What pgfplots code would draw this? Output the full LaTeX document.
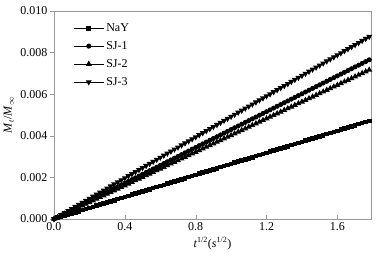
\documentclass[border=0pt]{standalone}
\usepackage{pgfplots}
\pgfplotsset{compat=1.18}
\usepackage{pgfplotstable}
\usepackage{fontspec}
\setmainfont{Liberation Serif}
\pgfplotstableread{
x NaY SJ1 SJ2 SJ3
0.00 0 0 0 0
0.02 0.000053 0.000086 0.0000805 0.0000985
0.04 0.000106 0.000172 0.000161 0.000197
0.06 0.000159 0.000258 0.0002415 0.0002955
0.08 0.000212 0.000344 0.000322 0.000394
0.10 0.000265 0.000430 0.0004025 0.0004925
0.12 0.000318 0.000516 0.000483 0.000591
0.14 0.000371 0.000602 0.0005635 0.0006895
0.16 0.000424 0.000688 0.000644 0.000788
0.18 0.000477 0.000774 0.0007245 0.0008865
0.20 0.000530 0.000860 0.000805 0.000985
0.22 0.000583 0.000946 0.0008855 0.0010835
0.24 0.000636 0.001032 0.000966 0.001182
0.26 0.000689 0.001118 0.0010465 0.0012805
0.28 0.000742 0.001204 0.001127 0.001379
0.30 0.000795 0.001290 0.0012075 0.0014775
0.32 0.000848 0.001376 0.001288 0.001576
0.34 0.000901 0.001462 0.0013685 0.0016745
0.36 0.000954 0.001548 0.001449 0.001773
0.38 0.001007 0.001634 0.0015295 0.0018715
0.40 0.001060 0.001720 0.001610 0.001970
0.42 0.001113 0.001806 0.0016905 0.0020685
0.44 0.001166 0.001892 0.001771 0.002167
0.46 0.001219 0.001978 0.0018515 0.0022655
0.48 0.001272 0.002064 0.001932 0.002364
0.50 0.001325 0.002150 0.0020125 0.0024625
0.52 0.001378 0.002236 0.002093 0.002561
0.54 0.001431 0.002322 0.0021735 0.0026595
0.56 0.001484 0.002408 0.002254 0.002758
0.58 0.001537 0.002494 0.0023345 0.0028565
0.60 0.001590 0.002580 0.002415 0.002955
0.62 0.001643 0.002666 0.0024955 0.0030535
0.64 0.001696 0.002752 0.002576 0.003152
0.66 0.001749 0.002838 0.0026565 0.0032505
0.68 0.001802 0.002924 0.002737 0.003349
0.70 0.001855 0.003010 0.0028175 0.0034475
0.72 0.001908 0.003096 0.002898 0.003546
0.74 0.001961 0.003182 0.0029785 0.0036445
0.76 0.002014 0.003268 0.003059 0.003743
0.78 0.002067 0.003354 0.0031395 0.0038415
0.80 0.002120 0.003440 0.003220 0.003940
0.82 0.002173 0.003526 0.0033005 0.0040385
0.84 0.002226 0.003612 0.003381 0.004137
0.86 0.002279 0.003698 0.0034615 0.0042355
0.88 0.002332 0.003784 0.003542 0.004334
0.90 0.002385 0.003870 0.0036225 0.0044325
0.92 0.002438 0.003956 0.003703 0.004531
0.94 0.002491 0.004042 0.0037835 0.0046295
0.96 0.002544 0.004128 0.003864 0.004728
0.98 0.002597 0.004214 0.0039445 0.0048265
1.00 0.002650 0.004300 0.004025 0.004925
1.02 0.002703 0.004386 0.0041055 0.0050235
1.04 0.002756 0.004472 0.004186 0.005122
1.06 0.002809 0.004558 0.0042665 0.0052205
1.08 0.002862 0.004644 0.004347 0.005319
1.10 0.002915 0.004730 0.0044275 0.0054175
1.12 0.002968 0.004816 0.004508 0.005516
1.14 0.003021 0.004902 0.0045885 0.0056145
1.16 0.003074 0.004988 0.004669 0.005713
1.18 0.003127 0.005074 0.0047495 0.0058115
1.20 0.003180 0.005160 0.004830 0.005910
1.22 0.003233 0.005246 0.0049105 0.0060085
1.24 0.003286 0.005332 0.004991 0.006107
1.26 0.003339 0.005418 0.0050715 0.0062055
1.28 0.003392 0.005504 0.005152 0.006304
1.30 0.003445 0.005590 0.0052325 0.0064025
1.32 0.003498 0.005676 0.005313 0.006501
1.34 0.003551 0.005762 0.0053935 0.0065995
1.36 0.003604 0.005848 0.005474 0.006698
1.38 0.003657 0.005934 0.0055545 0.0067965
1.40 0.003710 0.006020 0.005635 0.006895
1.42 0.003763 0.006106 0.0057155 0.0069935
1.44 0.003816 0.006192 0.005796 0.007092
1.46 0.003869 0.006278 0.0058765 0.0071905
1.48 0.003922 0.006364 0.005957 0.007289
1.50 0.003975 0.006450 0.0060375 0.0073875
1.52 0.004028 0.006536 0.006118 0.007486
1.54 0.004081 0.006622 0.0061985 0.0075845
1.56 0.004134 0.006708 0.006279 0.007683
1.58 0.004187 0.006794 0.0063595 0.0077815
1.60 0.004240 0.006880 0.006440 0.007880
1.62 0.004293 0.006966 0.0065205 0.0079785
1.64 0.004346 0.007052 0.006601 0.008077
1.66 0.004399 0.007138 0.0066815 0.0081755
1.68 0.004452 0.007224 0.006762 0.008274
1.70 0.004505 0.007310 0.0068425 0.0083725
1.72 0.004558 0.007396 0.006923 0.008471
1.74 0.004611 0.007482 0.0070035 0.0085695
1.76 0.004664 0.007568 0.007084 0.008668
1.78 0.004717 0.007654 0.0071645 0.0087665
}\datatable
\begin{document}
\begin{tikzpicture}
\begin{axis}[
  scale only axis,
  width=317pt, height=208pt,
  xmin=0, xmax=1.79, ymin=0, ymax=0.010,
  xtick={0,0.4,0.8,1.2,1.6},
  ytick={0,0.002,0.004,0.006,0.008,0.010},
  scaled y ticks=false,
  /pgf/number format/assume math mode=true,
  xticklabel style={/pgf/number format/fixed,/pgf/number format/fixed zerofill,/pgf/number format/precision=1},
  yticklabel style={/pgf/number format/fixed,/pgf/number format/fixed zerofill,/pgf/number format/precision=3, xshift=-3pt},
  tick label style={font=\fontsize{12}{14}\selectfont},
  axis line style={gray!80},
  tick style={gray!80},
  major tick length=4pt,
  tick align=inside,
  xtick pos=bottom, ytick pos=left,
  y tick style={xshift=-4pt},
  xlabel={\textit{t}\textsuperscript{1/2}(\textit{s}\textsuperscript{1/2})},
  ylabel={\textit{M}\textsubscript{\textit{t}}/\textit{M}\textsubscript{$\infty$}},
  label style={font=\fontsize{12}{14}\selectfont},
  xlabel style={yshift=0pt},
  ylabel style={yshift=0pt},
  legend style={at={(0.057,0.955)}, anchor=north west, draw=none, fill=none,
    font=\fontsize{12}{14}\selectfont, row sep=4.5pt, inner sep=1pt},
  legend cell align=left,
  legend image code/.code={\draw[mark repeat=2,mark phase=2] plot coordinates {(0pt,0pt) (15pt,0pt) (30pt,0pt)};},
  every axis plot/.append style={black, line width=1pt},
]
\addplot[mark=square*, mark size=1.8pt] table[x=x,y=NaY] {\datatable};
\addlegendentry{NaY}
\addplot[mark=*, mark size=2pt] table[x=x,y=SJ1] {\datatable};
\addlegendentry{SJ-1}
\addplot[mark=triangle*, mark size=2.5pt] table[x=x,y=SJ2] {\datatable};
\addlegendentry{SJ-2}
\addplot[mark=triangle*, mark options={rotate=180}, mark size=2.5pt] table[x=x,y=SJ3] {\datatable};
\addlegendentry{SJ-3}
\end{axis}
\path (current axis.south west) ++(-54pt,-39pt) coordinate (bbA);
\path (current axis.north east) ++(11pt,11pt) coordinate (bbB);
\pgfresetboundingbox
\path (bbA) rectangle (bbB);
\end{tikzpicture}
\end{document}
